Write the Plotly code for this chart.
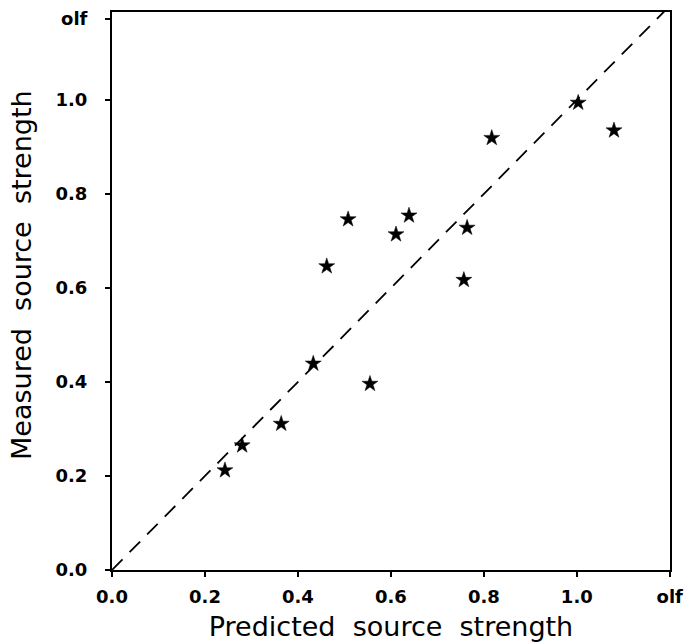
import plotly.graph_objects as go

# Data (predicted vs measured source strength, olf)
predicted = [0.243, 0.280, 0.364, 0.433, 0.462, 0.508, 0.555, 0.611, 0.639,
             0.757, 0.764, 0.817, 1.003, 1.080]
measured = [0.212, 0.265, 0.311, 0.439, 0.646, 0.746, 0.396, 0.714, 0.754,
            0.617, 0.728, 0.919, 0.994, 0.935]

x_tick_vals = [0.0, 0.2, 0.4, 0.6, 0.8, 1.0, 1.2]
x_tick_text = ["0.0", "0.2", "0.4", "0.6", "0.8", "1.0", "olf"]
y_tick_vals = [0.0, 0.2, 0.4, 0.6, 0.8, 1.0, 1.172]
y_tick_text = ["0.0", "0.2", "0.4", "0.6", "0.8", "1.0", "olf"]

diag = [0.0, 1.2]

fig = go.Figure()
fig.add_trace(go.Scatter(
    x=diag, y=diag, mode="lines",
    line=dict(color="black", width=1.8, dash="15px,10px"),
    hoverinfo="skip", showlegend=False))
fig.add_trace(go.Scatter(
    x=predicted, y=measured, mode="markers",
    marker=dict(symbol="star", size=12, color="black",
                line=dict(color="black", width=0.5)),
    showlegend=False))

tick_font = dict(family="DejaVu Sans", size=18, color="black", weight="bold")
title_font = dict(family="DejaVu Sans", size=27, color="black")

fig.update_layout(
    width=684, height=644,
    margin=dict(l=112, r=14, t=12, b=74, autoexpand=False),
    paper_bgcolor="white", plot_bgcolor="white",
    xaxis=dict(
        range=[0, 1.2005], tickvals=x_tick_vals, ticktext=x_tick_text,
        showgrid=False, zeroline=False, automargin=False,
        showline=True, linecolor="black", linewidth=2, mirror=True,
        ticks="outside", ticklen=5, tickwidth=1.5, tickcolor="black",
        tickfont=tick_font, ticklabelstandoff=4,
        title=dict(text="Predicted\u00a0 source\u00a0 strength", font=title_font, standoff=12),
    ),
    yaxis=dict(
        range=[0, 1.187], tickvals=y_tick_vals, ticktext=y_tick_text,
        showgrid=False, zeroline=False, automargin=False,
        showline=True, linecolor="black", linewidth=2, mirror=True,
        ticks="outside", ticklen=5, tickwidth=1.5, tickcolor="black",
        tickfont=tick_font, ticklabelstandoff=14,
    ),
    annotations=[dict(
        text="Measured\u00a0 source\u00a0 strength", font=title_font,
        xref="paper", yref="paper", x=0, y=0.5287, xshift=-90,
        xanchor="center", yanchor="middle", textangle=-90, showarrow=False,
    )],
)

fig.write_html("out.html")
